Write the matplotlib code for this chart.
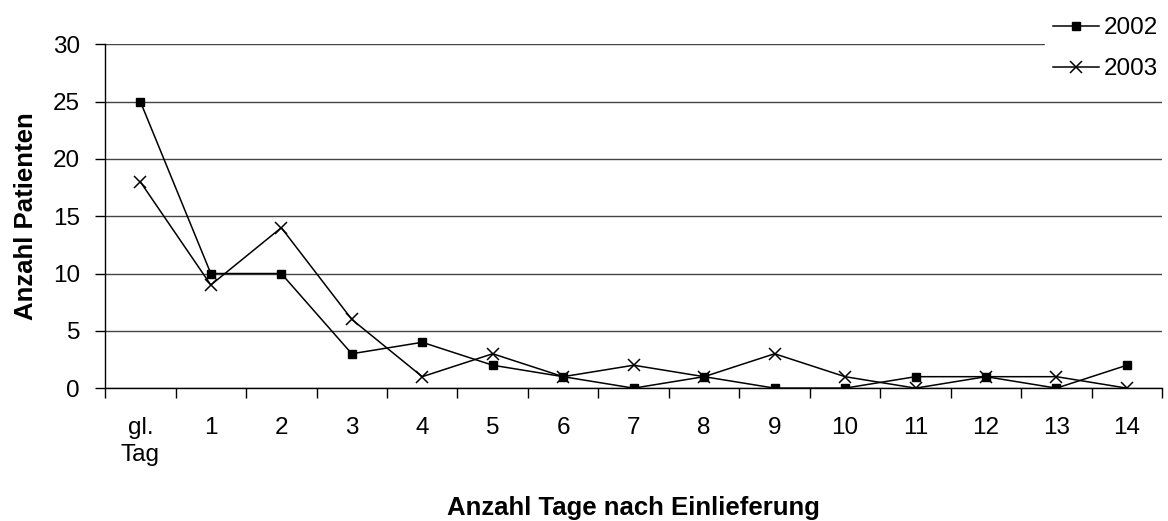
import numpy as np
import matplotlib.pyplot as plt

plt.rcParams['font.family'] = ['Liberation Sans', 'DejaVu Sans']

# categories and values
tage = ['gl.\nTag', '1', '2', '3', '4', '5', '6', '7', '8', '9', '10', '11', '12', '13', '14']
werte_2002 = [25, 10, 10, 3, 4, 2, 1, 0, 1, 0, 0, 1, 1, 0, 2]
werte_2003 = [18, 9, 14, 6, 1, 3, 1, 2, 1, 3, 1, 0, 1, 1, 0]

fs = 17.5

fig = plt.figure(figsize=(11.68, 5.21), dpi=100)
ax = fig.add_axes([0.09, 0.255, 0.905, 0.66])

x = np.arange(len(tage))
ax.plot(x, werte_2002, color='black', lw=1.1, marker='s', ms=5.5,
        markerfacecolor='black', label='2002', zorder=3)
ax.plot(x, werte_2003, color='black', lw=1.1, marker='x', ms=9,
        markeredgewidth=1.1, label='2003', zorder=3)

ax.set_ylim(0, 30)
ax.set_yticks([0, 5, 10, 15, 20, 25, 30])
ax.set_xlim(-0.5, len(tage) - 0.5)
ax.set_xticks(x)
ax.set_xticklabels(tage, va='top', linespacing=1.25)
ax.set_xticks(np.arange(-0.5, len(tage), 1.0), minor=True)
ax.tick_params(axis='x', which='major', length=0, pad=21, labelsize=fs)
ax.tick_params(axis='x', which='minor', length=7, width=1, direction='out')
ax.tick_params(axis='y', length=7, width=1, direction='out', labelsize=fs, pad=11)

ax.yaxis.grid(True, color='#444444', lw=1)
ax.set_axisbelow(True)
for s in ['top', 'right']:
    ax.spines[s].set_visible(False)
ax.spines['left'].set_linewidth(1)
ax.spines['bottom'].set_linewidth(1)

ax.set_ylabel('Anzahl Patienten', fontsize=18.5, fontweight='bold', labelpad=11)
ax.set_xlabel('Anzahl Tage nach Einlieferung', fontsize=18.5, fontweight='bold', labelpad=22)

leg = fig.legend(loc='upper right', bbox_to_anchor=(1.006, 1.0), frameon=True,
                 fontsize=fs, handlelength=1.9, handletextpad=0.2,
                 labelspacing=0.8, borderpad=0.3, borderaxespad=0.4)
leg.get_frame().set_edgecolor('white')
leg.get_frame().set_facecolor('white')
leg.get_frame().set_alpha(1)

fig.savefig('out.png', dpi=100)
